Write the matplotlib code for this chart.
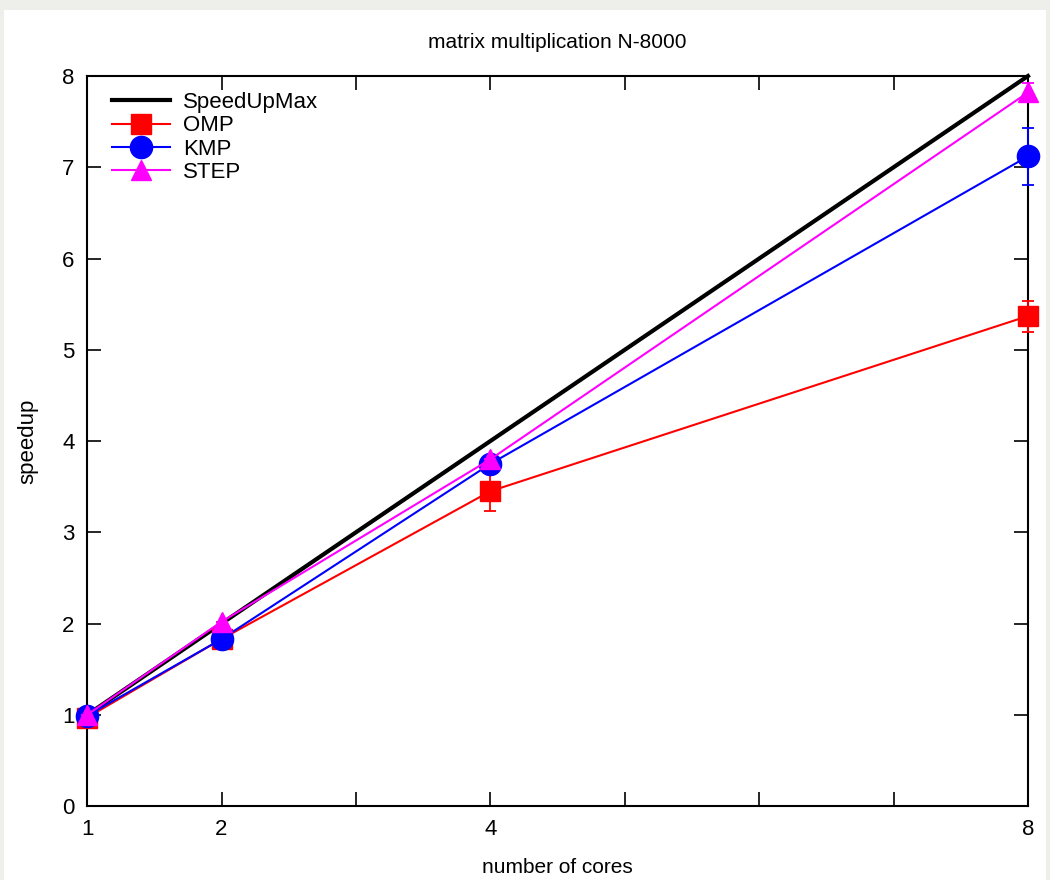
import numpy as np
import matplotlib
matplotlib.use('Agg')
import matplotlib.pyplot as plt
from matplotlib.patches import Rectangle

# Data
cores = [1, 2, 4, 8]
speedup_max = [1, 2, 4, 8]
omp = [0.97, 1.83, 3.45, 5.37]
omp_err = [0.0, 0.0, 0.22, 0.17]
kmp = [0.99, 1.83, 3.75, 7.12]
kmp_err = [0.0, 0.0, 0.08, 0.31]
step = [1.0, 2.02, 3.80, 7.82]
step_err = [0.0, 0.0, 0.0, 0.10]

xtick_labels = {1: '1', 2: '2', 4: '4', 8: '8'}

plt.rcParams['font.family'] = ['Liberation Sans', 'DejaVu Sans']

fig = plt.figure(figsize=(10.5, 8.8), dpi=100, facecolor='#eeeeea')
fig.patches.append(Rectangle((4/1050, 0), 1 - 8/1050, 1 - 10/880,
                             transform=fig.transFigure, facecolor='white',
                             edgecolor='none', zorder=-10))
ax = fig.add_axes([0.083, 0.084, 0.896, 0.8296])

ax.plot(cores, speedup_max, color='black', lw=3, label='SpeedUpMax',
        zorder=2, clip_on=False)

def series(y, yerr, color, marker, ms, label, z):
	ax.errorbar(cores, y, yerr=yerr, fmt='none', ecolor=color, elinewidth=1.3,
	            capsize=4, capthick=1.3, zorder=z, clip_on=False)
	ax.plot(cores, y, color=color, lw=1.5, marker=marker, markersize=ms,
	        markeredgecolor=color, markerfacecolor=color, label=label,
	        zorder=z, clip_on=False)

series(omp, omp_err, 'red', 's', 14, 'OMP', 3)
series(kmp, kmp_err, 'blue', 'o', 16, 'KMP', 4)
series(step, step_err, 'magenta', '^', 15, 'STEP', 5)

ax.set_xlim(1, 8)
ax.set_ylim(0, 8)
ax.set_xticks(range(1, 9))
ax.set_xticklabels([xtick_labels.get(i, '') for i in range(1, 9)])
ax.set_yticks(range(0, 9))
ax.tick_params(direction='in', length=10, width=1.2, top=True, right=True,
               labelsize=16, pad=9)
for s in ax.spines.values():
	s.set_linewidth(1.5)

ax.set_title('matrix multiplication N-8000', fontsize=15, pad=20)
ax.set_xlabel('number of cores', fontsize=15, labelpad=13)
ax.set_ylabel('speedup', fontsize=16, labelpad=17)

leg = ax.legend(loc='upper left', frameon=False, fontsize=16, handlelength=2.6,
                handletextpad=0.6, labelspacing=0.1, borderaxespad=0.0,
                bbox_to_anchor=(0.017, 0.99))

fig.savefig('out.png', dpi=100, facecolor=fig.get_facecolor())
